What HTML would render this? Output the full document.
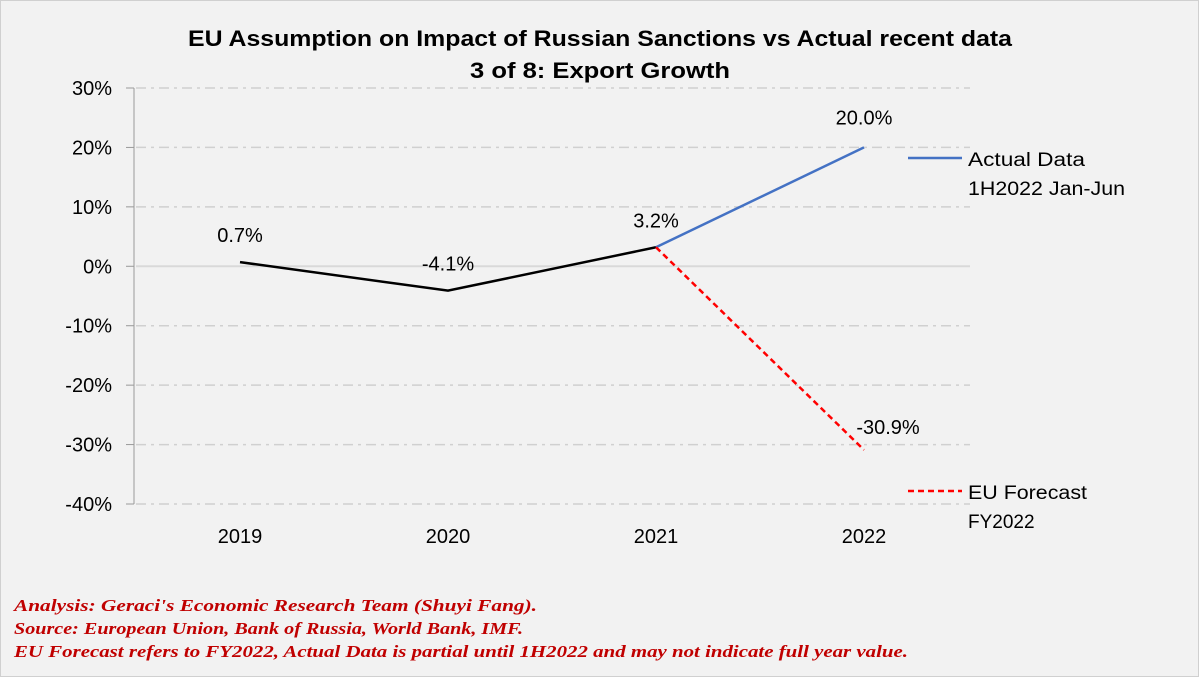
<!DOCTYPE html>
<html><head><meta charset="utf-8"><style>
body{margin:0;background:#f2f2f2;}
svg{display:block;font-family:"Liberation Sans",Calibri,sans-serif;}
</style></head><body>
<svg width="1199" height="677" viewBox="0 0 1199 677">
<rect x="0.5" y="0.5" width="1198" height="676" fill="#f2f2f2" stroke="#d0d0d0"/>
<text x="188" y="46" textLength="824" lengthAdjust="spacingAndGlyphs" font-size="22" font-weight="bold" fill="#000">EU Assumption on Impact of Russian Sanctions vs Actual recent data</text>
<text x="470" y="78" textLength="260" lengthAdjust="spacingAndGlyphs" font-size="22" font-weight="bold" fill="#000">3 of 8: Export Growth</text>
<g id="grid"></g><g id="axes"></g><g id="series"></g>
<g>
<line x1="908" y1="158" x2="962" y2="158" stroke="#4472c4" stroke-width="2.5"/>
<text x="968" y="166" textLength="117" lengthAdjust="spacingAndGlyphs" font-size="19" fill="#000">Actual Data</text>
<text x="968" y="195" textLength="157" lengthAdjust="spacingAndGlyphs" font-size="19" fill="#000">1H2022 Jan-Jun</text>
<line x1="908" y1="491" x2="962" y2="491" stroke="#ff0000" stroke-width="2.5" stroke-dasharray="6,4"/>
<text x="968" y="499" textLength="119" lengthAdjust="spacingAndGlyphs" font-size="19" fill="#000">EU Forecast</text>
<text x="968" y="528" font-size="19" fill="#000">FY2022</text>
</g>
<g font-family="Liberation Serif,serif" font-style="italic" font-weight="bold" font-size="17" fill="#c00000">
<text x="14" y="611" textLength="523" lengthAdjust="spacingAndGlyphs">Analysis: Geraci's Economic Research Team (Shuyi Fang).</text>
<text x="14" y="634" textLength="509" lengthAdjust="spacingAndGlyphs">Source: European Union, Bank of Russia, World Bank, IMF.</text>
<text x="14" y="657" textLength="894" lengthAdjust="spacingAndGlyphs">EU Forecast refers to FY2022, Actual Data is partial until 1H2022 and may not indicate full year value.</text>
</g>
</svg>
<script>
const categories=["2019","2020","2021","2022"];
const historical=[0.7,-4.1,3.2];
const actual2022=20.0;
const forecast2022=-30.9;
const yTicks=[30,20,10,0,-10,-20,-30,-40];
const NS="http://www.w3.org/2000/svg";
const x0=136,step=208,yTop=88,yBot=504,yMax=30,yMin=-40;
function xs(i){return x0+step/2+i*step;}
function ys(v){return yTop+(yMax-v)/(yMax-yMin)*(yBot-yTop);}
function mk(t,a,p){const e=document.createElementNS(NS,t);for(const k in a)e.setAttribute(k,a[k]);(p||document.getElementById("series")).appendChild(e);return e;}
const grid=document.getElementById("grid"),axes=document.getElementById("axes");
yTicks.forEach(v=>{
 const g=mk("line",{x1:x0,x2:970,y1:ys(v),y2:ys(v),stroke:v===0?"#d9d9d9":"#d0d0d0","stroke-width":v===0?2:1.5,"stroke-dasharray":v===0?"none":"10,5,3,5"},grid);
 
 
 const tk=mk("line",{x1:126,x2:134,y1:ys(v),y2:ys(v),stroke:"#999"},axes);
 
 
 const t=mk("text",{x:112,y:ys(v)+7,"text-anchor":"end","font-size":20,fill:"#000"},axes);
 t.textContent=v+"%";
 
 
});
const ax=mk("line",{x1:134,x2:134,y1:yTop,y2:yBot,stroke:"#999"},axes);


categories.forEach((c,i)=>{
 const t=mk("text",{x:xs(i),y:543,"text-anchor":"middle","font-size":20,fill:"#000"},axes);
 t.textContent=c;
 
 
});
const hist=mk("polyline",{points:historical.map((v,i)=>xs(i)+","+ys(v)).join(" "),fill:"none",stroke:"#000","stroke-width":2.5});


const act=mk("line",{x1:xs(2),y1:ys(historical[2]),x2:xs(3),y2:ys(actual2022),stroke:"#4472c4","stroke-width":2.5});


const fc=mk("line",{x1:xs(2),y1:ys(historical[2]),x2:xs(3),y2:ys(forecast2022),stroke:"#ff0000","stroke-width":2.5,"stroke-dasharray":"6,4"});


function lab(x,y,v,name){const t=mk("text",{x:x,y:y,"text-anchor":"middle","font-size":20,fill:"#000"});t.textContent=v.toFixed(1)+"%";
 
 }
historical.forEach((v,i)=>lab(xs(i),ys(v)-20,v,'data-label-'+categories[i]));
lab(xs(3),ys(actual2022)-23,actual2022,'data-label-actual-2022');
lab(xs(3)+24,ys(forecast2022)-16,forecast2022,'data-label-forecast-2022');
</script>
</body></html>
